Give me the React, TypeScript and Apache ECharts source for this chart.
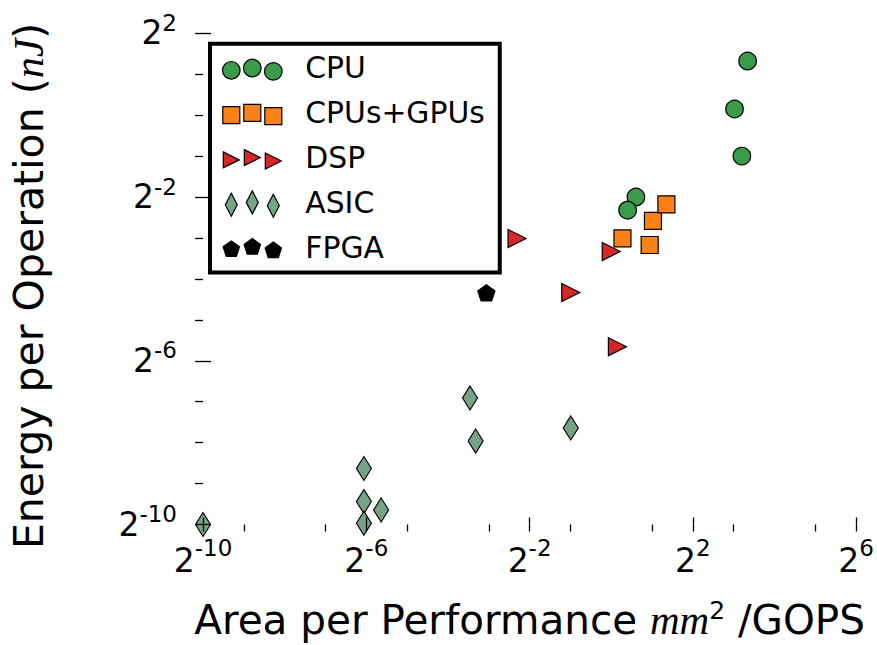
import React, { useEffect, useRef } from 'react';
import * as echarts from 'echarts';

// ---- data (log2 axes) ----
const cpuX = [10.13, 8.11, 9.19, 1.52, 1.32];
const cpuY = [2.5, 1.11, 0.5, 0.25, 0.2];
const gpuX = [1.21, 2.03, 2.55, 1.92];
const gpuY = [0.124, 0.167, 0.221, 0.111];
const dspX = [0.202, 1.0, 0.503, 1.11];
const dspY = [0.124, 0.0994, 0.0497, 0.0198];
const asicX = [0.0909, 0.1, 0.503, 0.015, 0.015, 0.0201, 0.015, 0.000977];
const asicY = [0.00833, 0.00401, 0.00501, 0.00252, 0.00144, 0.00125, 0.000997, 0.000977];
const fpgaX = [0.12];
const fpgaY = [0.0494];

const seriesNames = ['CPU', 'CPUs+GPUs', 'DSP', 'ASIC', 'FPGA'];

// tick exponents (base 2)
const xMajorExp = [-10, -6, -2, 2, 6];
const xMinorExp = [-9, -7, -5, -3, -1, 1, 3, 5];
const yMajorExp = [-10, -6, -2, 2];
const yMinorExp = [-9, -8, -7, -5, -4, -3, -1, 0, 1];

const FONT = 'DejaVu Sans';
const pow2 = (e: number) => Math.pow(2, e);

// legend icon shape helpers (three markers per entry)
const OFFS = [[9, 18.5], [30, 16.2], [51, 19.6]];
const circ = (cx: number, cy: number) => {
  const r = 8.8;
  return `M${cx - r} ${cy}A${r} ${r} 0 1 0 ${cx + r} ${cy}A${r} ${r} 0 1 0 ${cx - r} ${cy}Z`;
};
const sq = (cx: number, cy: number) => {
  const h = 8.5;
  return `M${cx - h} ${cy - h}L${cx + h} ${cy - h}L${cx + h} ${cy + h}L${cx - h} ${cy + h}Z`;
};
const tri = (cx: number, cy: number) => {
  const h = 8;
  return `M${cx - h} ${cy - h}L${cx + h} ${cy}L${cx - h} ${cy + h}Z`;
};
const dia = (cx: number, cy: number) => {
  const w = 6, h = 11.5;
  return `M${cx} ${cy - h}L${cx + w} ${cy}L${cx} ${cy + h}L${cx - w} ${cy}Z`;
};
const pent = (cx: number, cy: number) => {
  const r = 8.6;
  const pts = [-90, -18, 54, 126, 198].map((a) => {
    const t = (a * Math.PI) / 180;
    return `${(cx + r * Math.cos(t)).toFixed(2)} ${(cy + r * Math.sin(t)).toFixed(2)}`;
  });
  return `M${pts.join('L')}Z`;
};
const icon = (fn: (x: number, y: number) => string) =>
  'path://M0 0M78 32' + OFFS.map(([x, y]) => fn(x, y)).join('');

const TRI_SYM = 'path://M0 0L2 1L0 2Z';
const PENT_SYM = 'path://M0 -9L8.56 -2.78L5.29 7.28L-5.29 7.28L-8.56 -2.78Z';

const zip = (xs: number[], ys: number[]) => xs.map((x, i) => [x, ys[i]]);

export default function App() {
  const ref = useRef<HTMLDivElement>(null);

  useEffect(() => {
    if (!ref.current) return;
    const chart = echarts.init(ref.current, null, { renderer: 'svg' });

    const expLabel = (v: number) => `{b|2}{s|${Math.round(Math.log2(v))}}`;
    const baseAxis = {
      type: 'log' as const,
      logBase: 2,
      gridIndex: 0,
      z: 10,
      axisLine: { show: false },
      splitLine: { show: false },
    };
    const tickStyle = { color: '#000', width: 1.3 };

    const xCommon = { ...baseAxis, min: pow2(-10), max: pow2(6), position: 'bottom' };
    const yCommon = { ...baseAxis, min: pow2(-10), max: pow2(2), position: 'left' };

    const xAxes = [
      {
        ...xCommon,
        name: '{t|Area per Performance }{i|mm}{s|2}{t| /GOPS}',
        nameLocation: 'middle',
        nameGap: 73,
        nameTextStyle: {
          rich: {
            t: { fontFamily: FONT, fontSize: 40.5, lineHeight: 40, color: '#000', padding: [4, 0, 0, 0] },
            i: { fontFamily: 'Liberation Serif', fontStyle: 'italic', fontSize: 41, lineHeight: 40, color: '#000', padding: [4, 0, 0, 0] },
            s: { fontFamily: FONT, fontSize: 25, lineHeight: 25, verticalAlign: 'top', color: '#000' },
          },
        },
        axisTick: { show: true, inside: false, length: 7, customValues: xMajorExp.map(pow2), lineStyle: tickStyle },
        axisLabel: {
          show: true,
          margin: 12,
          customValues: xMajorExp.map(pow2),
          formatter: expLabel,
          rich: {
            b: { fontFamily: FONT, fontSize: 33, lineHeight: 33, padding: [15, 0, 0, 0], color: '#000' },
            s: { fontFamily: FONT, fontSize: 23, lineHeight: 23, verticalAlign: 'top', color: '#000' },
          },
        },
      },
      {
        ...xCommon,
        axisTick: { show: true, inside: true, length: 7, customValues: xMajorExp.map(pow2), lineStyle: tickStyle },
        axisLabel: { show: false },
      },
      {
        ...xCommon,
        axisTick: { show: true, inside: false, length: 7, customValues: xMinorExp.map(pow2), lineStyle: tickStyle },
        axisLabel: { show: false },
      },
    ];

    const yAxes = [
      {
        ...yCommon,
        name: '{t|Energy per Operation (}{i|nJ}{t|)}',
        nameLocation: 'middle',
        nameGap: 154,
        nameTextStyle: {
          padding: [0, 14, 0, 0],
          rich: {
            t: { fontFamily: FONT, fontSize: 41, lineHeight: 40, color: '#000' },
            i: { fontFamily: 'Liberation Serif', fontStyle: 'italic', fontSize: 42, lineHeight: 40, color: '#000' },
          },
        },
        axisTick: { show: true, inside: false, length: 8, customValues: yMajorExp.map(pow2), lineStyle: tickStyle },
        axisLabel: {
          show: true,
          margin: 26,
          customValues: yMajorExp.map(pow2),
          formatter: expLabel,
          padding: [0, 0, 11, 0],
          rich: {
            b: { fontFamily: FONT, fontSize: 33, lineHeight: 33, padding: [10, 0, 0, 0], color: '#000' },
            s: { fontFamily: FONT, fontSize: 23, lineHeight: 23, verticalAlign: 'top', color: '#000' },
          },
        },
      },
      {
        ...yCommon,
        axisTick: { show: true, inside: true, length: 8, customValues: yMajorExp.map(pow2), lineStyle: tickStyle },
        axisLabel: { show: false },
      },
      {
        ...yCommon,
        axisTick: { show: true, inside: false, length: 8, customValues: yMinorExp.map(pow2), lineStyle: tickStyle },
        axisLabel: { show: false },
      },
    ];

    const border = { borderColor: '#000', borderWidth: 1.2 };
    const mk = (name: string, data: number[][], symbol: string, size: any, color: string) => ({
      type: 'scatter',
      name,
      data,
      symbol,
      symbolSize: size,
      clip: false,
      xAxisIndex: 0,
      yAxisIndex: 0,
      itemStyle: { color, opacity: 1, ...border },
    });

    const option = {
      animation: false,
      backgroundColor: '#fff',
      textStyle: { fontFamily: FONT },
      grid: { left: 201.3, right: 19.7, top: 33.3, bottom: 117 },
      xAxis: xAxes,
      yAxis: yAxes,
      legend: {
        orient: 'vertical',
        left: 210,
        top: 43.7,
        padding: [7.5, 15, 9, 11.7],
        itemWidth: 78,
        itemHeight: 32,
        itemGap: 11.6,
        borderColor: '#000',
        borderWidth: 4,
        backgroundColor: '#fff',
        selectedMode: false,
        textStyle: { fontFamily: FONT, fontSize: 29.8, lineHeight: 32, color: '#000' },
        itemStyle: { borderWidth: 1.2, borderColor: '#000', opacity: 1 },
        data: [
          { name: seriesNames[0], icon: icon(circ) },
          { name: seriesNames[1], icon: icon(sq) },
          { name: seriesNames[2], icon: icon(tri) },
          { name: seriesNames[3], icon: icon(dia) },
          { name: seriesNames[4], icon: icon(pent) },
        ],
      },
      series: [
        mk(seriesNames[0], zip(cpuX, cpuY), 'circle', 17.5, '#3a9c4a'),
        mk(seriesNames[1], zip(gpuX, gpuY), 'rect', 17, '#fd8116'),
        mk(seriesNames[2], zip(dspX, dspY), TRI_SYM, [18, 18], '#d62728'),
        mk(seriesNames[3], zip(asicX, asicY), 'diamond', [15, 24], '#77a286'),
        mk(seriesNames[4], zip(fpgaX, fpgaY), PENT_SYM, [17.1, 16.3], '#000000'),
      ],
    };

    chart.setOption(option as any);
    return () => chart.dispose();
  }, []);

  return (
    <div
      ref={ref}
      style={{ position: 'fixed', left: 0, top: 0, width: 877, height: 645, background: '#fff' }}
    />
  );
}
